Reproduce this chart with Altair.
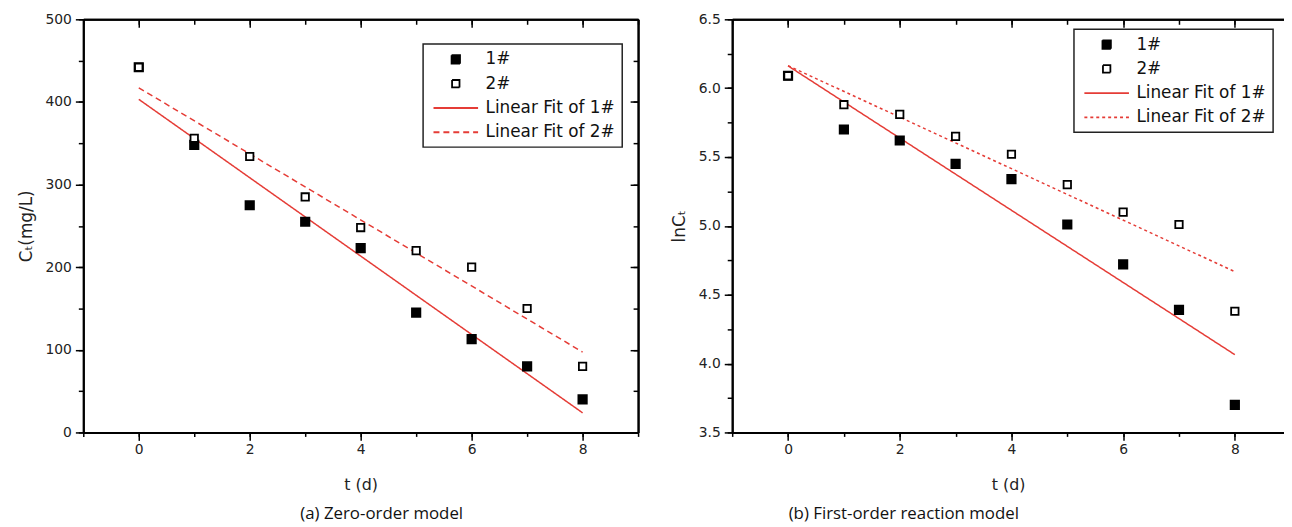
import altair as alt
import pandas as pd

t_days = [0, 1, 2, 3, 4, 5, 6, 7, 8]
c_1 = [442, 348, 275, 255, 223, 145, 113, 80, 40]
c_2 = [442, 356, 334, 285, 248, 220, 200, 150, 80]
lnc_1 = [6.09, 5.70, 5.62, 5.45, 5.34, 5.01, 4.72, 4.39, 3.70]
lnc_2 = [6.09, 5.88, 5.81, 5.65, 5.52, 5.30, 5.10, 5.01, 4.38]
samples = ["1#", "2#"]
series_names = ["1#", "2#", "Linear Fit of 1#", "Linear Fit of 2#"]
captions = ["(a) Zero-order model", "(b) First-order reaction model"]
y_titles = ["Cₜ(mg/L)", "lnCₜ"]
x_title = "t (d)"
x_major = [0, 2, 4, 6, 8]
x_minor = [-1, 0, 1, 2, 3, 4, 5, 6, 7, 8, 9]
y_major_a = [0, 100, 200, 300, 400, 500]
y_minor_a = [0, 50, 100, 150, 200, 250, 300, 350, 400, 450, 500]
y_major_b = [3.5, 4.0, 4.5, 5.0, 5.5, 6.0, 6.5]
y_minor_b = [3.5, 3.75, 4.0, 4.25, 4.5, 4.75, 5.0, 5.25, 5.5, 5.75, 6.0, 6.25, 6.5]

RED = "#e53c36"
FONT = "DejaVu Sans"

# legend glyphs (unit paths, scaled by the legend symbol size)
SQ_FILLED = "M2.65,-0.85H4.35V0.85H2.65Z"
SQ_OPEN = "M2.75,-0.75H4.25V0.75H2.75Z"
LINE_GLYPH = "M-1,0H8"


def long_df(a, b):
    rows = []
    for s, vals in zip(samples, [a, b]):
        for t, v in zip(t_days, vals):
            rows.append({"t": t, "v": v, "sample": s})
    return pd.DataFrame(rows)


def panel(df, xdom, ydom, y_major, y_minor, yfmt, w, h, y_title, caption,
          legend_xy, dash2, right_axis, cap_dx):
    leg = alt.Legend(title=None, orient="none", legendX=legend_xy[0],
                     legendY=legend_xy[1], strokeColor="#222", padding=7,
                     labelFont=FONT, labelFontSize=17, labelColor="#111",
                     labelOffset=39, rowPadding=6.5, symbolStrokeWidth=1.8,
                     symbolSize=100, symbolOpacity=1)
    dom = series_names
    xs = alt.Scale(domain=xdom, nice=False, zero=False)
    ys = alt.Scale(domain=ydom, nice=False, zero=False)

    base = alt.Chart(df)

    def fit_line(sample, dash, with_axes):
        if with_axes:
            xa = alt.Axis(values=x_major, tickSize=8, labelPadding=2,
                          title=x_title, titlePadding=21, orient="bottom")
            ya = alt.Axis(values=y_major, tickSize=8, labelPadding=4,
                          format=yfmt, title=y_title, titlePadding=10,
                          orient="left")
        else:
            xa = None
            ya = None
        return base.transform_filter(
            alt.datum.sample == sample
        ).transform_regression(
            "t", "v", extent=[0, 8]
        ).mark_line(strokeWidth=1.5, clip=True, color=RED,
                    strokeDash=dash).encode(
            x=alt.X("t:Q", scale=xs, axis=xa),
            y=alt.Y("v:Q", scale=ys, axis=ya),
        )

    def point_layer(sample, fill, size, with_axes):
        if with_axes:
            xa = alt.Axis(values=x_minor, tickSize=4, labels=False, title=None,
                          orient="bottom")
            ya = alt.Axis(values=y_minor, tickSize=5, labels=False, title=None,
                          orient="left")
        else:
            xa = None
            ya = None
        return base.transform_filter(
            alt.datum.sample == sample
        ).mark_point(shape="square", strokeWidth=1.8, stroke="black",
                     fill=fill, size=size, opacity=1, filled=True).encode(
            x=alt.X("t:Q", scale=xs, axis=xa),
            y=alt.Y("v:Q", scale=ys, axis=ya),
        )

    legend_carrier = base.transform_filter("false").transform_calculate(
        series="datum.sample"
    ).mark_point(strokeWidth=1.8, opacity=1).encode(
        x=alt.X("t:Q", scale=xs, axis=None),
        y=alt.Y("v:Q", scale=ys, axis=None),
        shape=alt.Shape("series:N", scale=alt.Scale(
            domain=dom, range=[SQ_FILLED, SQ_OPEN, LINE_GLYPH, LINE_GLYPH]),
            legend=leg),
        fill=alt.Fill("series:N", scale=alt.Scale(
            domain=dom, range=["black", "white", "transparent", "transparent"]),
            legend=leg),
        stroke=alt.Stroke("series:N", scale=alt.Scale(
            domain=dom, range=["black", "black", RED, RED]), legend=leg),
        strokeDash=alt.StrokeDash("series:N", scale=alt.Scale(
            domain=dom, range=[[1, 0], [1, 0], [1, 0], dash2]), legend=leg),
    )

    def mirror_y(vals, ts):
        if right_axis:
            return alt.Y("v:Q", scale=ys, axis=alt.Axis(values=vals, tickSize=ts,
                                                        labels=False, title=None,
                                                        orient="left", offset=-w))
        return alt.Y("v:Q", scale=ys, axis=None)

    top_major = base.mark_point(opacity=0).encode(
        x=alt.X("t:Q", scale=xs, axis=alt.Axis(values=x_major, tickSize=8,
                                               labels=False, title=None,
                                               orient="bottom", offset=-h)),
        y=mirror_y(y_major, 8),
    )
    top_minor = base.mark_point(opacity=0).encode(
        x=alt.X("t:Q", scale=xs, axis=alt.Axis(values=x_minor, tickSize=5,
                                               labels=False, title=None,
                                               orient="bottom", offset=-h)),
        y=mirror_y(y_minor, 5),
    )

    return alt.layer(
        fit_line(samples[0], [1, 0], True),
        fit_line(samples[1], dash2, False),
        point_layer(samples[0], "black", 72, True),
        point_layer(samples[1], "white", 56, False),
        top_major, top_minor, legend_carrier
    ).resolve_axis(
        x="independent", y="independent"
    ).properties(
        width=w, height=h,
        title=alt.TitleParams(text=caption, orient="bottom", anchor="start",
                              frame="group", dx=cap_dx, offset=13,
                              font="Open Sans", fontSize=17,
                              fontWeight="normal", color="#111"),
    )


left = panel(long_df(c_1, c_2), [-1, 9], [0, 500], y_major_a, y_minor_a, "d",
             560, 417, y_titles[0], captions[0], (343, 25), [6, 4], True, 219)
right = panel(long_df(lnc_1, lnc_2), [-1, 8.88], [3.5, 6.5], y_major_b, y_minor_b,
              ".1f", 557, 417, y_titles[1], captions[1], (345, 10), [3, 3], False, 57)

chart = alt.hconcat(left, right, spacing=31).resolve_scale(
    x="independent", y="independent", fill="independent", stroke="independent",
    shape="independent", strokeDash="independent"
).resolve_legend(
    fill="independent", stroke="independent", shape="independent",
    strokeDash="independent"
).properties(
    padding={"left": 9, "top": 2, "right": 0, "bottom": 0}
).configure_view(
    strokeWidth=0
).configure_axis(
    grid=False, domainColor="black", domainWidth=2, tickColor="black",
    tickWidth=1.5, labelFont=FONT, labelFontSize=14, labelColor="#222",
    titleFont=FONT, titleFontSize=16, titleFontWeight="normal", titleColor="#222"
).configure_axisY(
    titleFontSize=17
).configure_legend(
    strokeWidth=1.5
)

chart.save("out.html", embed_options={"renderer": "svg", "actions": False})
